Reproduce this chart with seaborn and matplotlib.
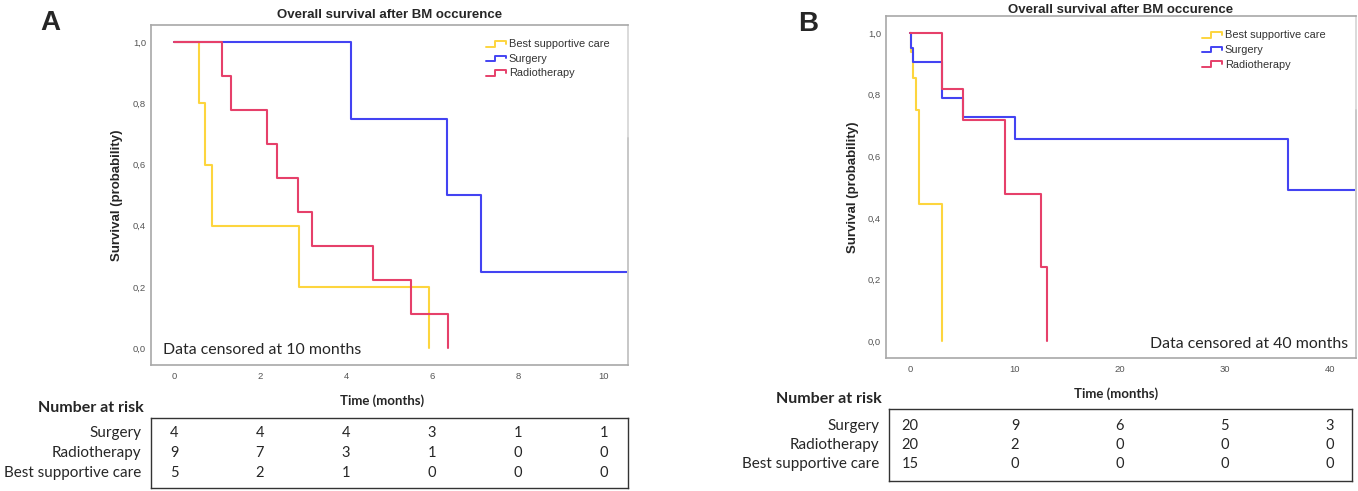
import numpy as np
import pandas as pd
import matplotlib
matplotlib.use("Agg")
import matplotlib.pyplot as plt
import matplotlib.transforms as mtrans
from matplotlib.legend_handler import HandlerBase
from matplotlib.lines import Line2D
import seaborn as sns

sns.set_theme(style="white")
plt.rcParams["font.family"] = ["Liberation Sans", "DejaVu Sans"]

GROUPS = ["Best supportive care", "Surgery", "Radiotherapy"]
COLORS = {"Best supportive care": "#FDD53E",
          "Surgery": "#4343F2",
          "Radiotherapy": "#E6406A"}
CAL = ["Lato", "DejaVu Sans"]

# ── Panel A: Kaplan-Meier steps (months, survival) ───────────
a_bsc_t = [0, 0.59, 0.71, 0.88, 2.91, 5.93]
a_bsc_s = [1.0, 0.8, 0.6, 0.4, 0.2, 0.0]
a_sur_t = [0, 4.11, 6.34, 7.13, 10.6]
a_sur_s = [1.0, 0.75, 0.5, 0.25, 0.25]
a_rad_t = [0, 1.11, 1.33, 2.17, 2.40, 2.88, 3.22, 4.64, 5.52, 6.37]
a_rad_s = [1.0, 0.889, 0.778, 0.667, 0.556, 0.444, 0.333, 0.222, 0.111, 0.0]

# ── Panel B ───────────────────────────────────────────────────
b_bsc_t = [0, 0.06, 0.25, 0.57, 0.88, 3.0]
b_bsc_s = [1.0, 0.94, 0.853, 0.75, 0.445, 0.0]
b_sur_t = [0, 0.13, 0.31, 3.0, 5.07, 10.0, 36.0, 42.6]
b_sur_s = [1.0, 0.952, 0.905, 0.79, 0.728, 0.656, 0.492, 0.492]
b_rad_t = [0, 3.0, 5.07, 9.04, 12.47, 13.1]
b_rad_s = [1.0, 0.82, 0.717, 0.478, 0.24, 0.0]

# ── Number at risk tables ─────────────────────────────────────
a_risk_times = [0, 2, 4, 6, 8, 10]
a_risk_surgery = [4, 4, 4, 3, 1, 1]
a_risk_radio = [9, 7, 3, 1, 0, 0]
a_risk_bsc = [5, 2, 1, 0, 0, 0]

b_risk_times = [0, 10, 20, 30, 40]
b_risk_surgery = [20, 9, 6, 5, 3]
b_risk_radio = [20, 2, 0, 0, 0]
b_risk_bsc = [15, 0, 0, 0, 0]

a_xticks = [0, 2, 4, 6, 8, 10]
b_xticks = [0, 10, 20, 30, 40]
yticks = [0.0, 0.2, 0.4, 0.6, 0.8, 1.0]


class StepHandler(HandlerBase):
    def create_artists(self, legend, orig_handle, xdescent, ydescent,
                       width, height, fontsize, trans):
        x = np.array([0, 0.45, 0.45, 1.0, 1.0]) * width - xdescent
        y = np.array([0.1, 0.1, 0.8, 0.8, 0.45]) * height - ydescent
        ln = Line2D(x, y, color=orig_handle.get_color(), lw=1.4)
        ln.set_transform(trans)
        return [ln]


def to_long(curves):
    rows = []
    for g, (t, s) in zip(GROUPS, curves):
        rows.append(pd.DataFrame({"time": t, "surv": s, "group": g}))
    return pd.concat(rows, ignore_index=True)


def km_panel(ax, df, xlim, xticks, censor_txt, censor_xy, censor_ha,
             leg_anchor, title_pad, dark_frac, xlab_x):
    sns.lineplot(data=df, x="time", y="surv", hue="group",
                 hue_order=GROUPS, palette=COLORS, estimator=None,
                 drawstyle="steps-post", linewidth=1.5, ax=ax, legend=False)
    ax.set_xlim(*xlim)
    ax.set_ylim(-0.055, 1.056)
    ax.set_xticks(xticks)
    ax.set_xticklabels([str(x) for x in xticks])
    ax.set_yticks(yticks)
    ax.set_yticklabels([f"{v:.1f}".replace(".", ",") for v in yticks])
    ax.tick_params(length=0, labelsize=6.8, labelcolor="#555555")
    ax.tick_params(axis="x", pad=5)
    ax.tick_params(axis="y", pad=3.5)
    for sp in ax.spines.values():
        sp.set_color("#a8a8a8")
        sp.set_linewidth(1.2)
    ax.spines["right"].set_color("#d4d4d4")
    ax.axvline(xlim[1], ymin=0, ymax=dark_frac, color="#8c8c8c",
               lw=1.4, clip_on=False)
    ax.set_title("Overall survival after BM occurence", fontsize=9.5,
                 fontweight="bold", pad=title_pad)
    ax.set_ylabel("Survival (probability)", fontsize=9.5, fontweight="bold")
    ax.set_xlabel("Time (months)", fontsize=9.5, fontweight="bold",
                  family=CAL)
    ax.yaxis.set_label_coords(-0.058, 0.5)
    ax.xaxis.set_label_coords(xlab_x, -0.085)
    ax.text(*censor_xy, censor_txt, transform=ax.transAxes, ha=censor_ha,
            va="center", fontsize=11.4, family=CAL)
    handles = [Line2D([], [], color=COLORS[g]) for g in GROUPS]
    ax.legend(handles, GROUPS, handler_map={Line2D: StepHandler()},
              loc="upper left", bbox_to_anchor=leg_anchor, frameon=False,
              fontsize=7.9, handlelength=1.8, handletextpad=0.3,
              labelspacing=0.42, borderpad=0, borderaxespad=0,
              labelcolor="#333333")


def risk_table(ax_tab, ax_plot, times, rows, ys, label_pad):
    ax_tab.set_xticks([]); ax_tab.set_yticks([])
    ax_tab.set_xlim(0, 1); ax_tab.set_ylim(0, 1)
    for sp in ax_tab.spines.values():
        sp.set_color("#333333")
        sp.set_linewidth(1.0)
    tr = mtrans.blended_transform_factory(ax_plot.transData, ax_tab.transAxes)
    for (name, vals), y in zip(rows, ys):
        for t, v in zip(times, vals):
            ax_tab.text(t, y, str(v), transform=tr, ha="center", va="center",
                        fontsize=10.5, family=CAL)
        ax_tab.annotate(name, xy=(0, y), xycoords="axes fraction",
                        xytext=(-label_pad, 0), textcoords="offset points",
                        ha="right", va="center", fontsize=11, family=CAL)
    ax_tab.annotate("Number at risk", xy=(0, 1), xycoords="axes fraction",
                    xytext=(-label_pad + 2, 7.5), textcoords="offset points",
                    ha="right", va="center", fontsize=11.5, fontweight="bold",
                    family=CAL)


W, H = 1358, 491
fig = plt.figure(figsize=(W / 100, H / 100), dpi=100)


def box(l, t, r, b):
    return [l / W, 1 - b / H, (r - l) / W, (b - t) / H]


ax_a = fig.add_axes(box(151, 25, 628, 365))
ax_b = fig.add_axes(box(886, 16, 1356, 358))
tab_a = fig.add_axes(box(151, 418, 628, 488))
tab_b = fig.add_axes(box(889, 409, 1352, 481))

df_a = to_long([(a_bsc_t, a_bsc_s), (a_sur_t, a_sur_s), (a_rad_t, a_rad_s)])
df_b = to_long([(b_bsc_t, b_bsc_s), (b_sur_t, b_sur_s), (b_rad_t, b_rad_s)])

km_panel(ax_a, df_a, (-0.535, 10.56), a_xticks,
         "Data censored at 10 months", (0.025, 0.044), "left",
         (0.702, 0.958), 5.0, 0.668, 0.485)
km_panel(ax_b, df_b, (-2.29, 42.5), b_xticks,
         "Data censored at 40 months", (0.983, 0.04), "right",
         (0.672, 0.958), 2.0, 0.725, 0.49)

risk_table(tab_a, ax_a, a_risk_times,
           [("Surgery", a_risk_surgery), ("Radiotherapy", a_risk_radio),
            ("Best supportive care", a_risk_bsc)], [0.79, 0.5, 0.22], 7)
risk_table(tab_b, ax_b, b_risk_times,
           [("Surgery", b_risk_surgery), ("Radiotherapy", b_risk_radio),
            ("Best supportive care", b_risk_bsc)], [0.77, 0.5, 0.23], 7)

fig.text(50 / W, 1 - 23 / H, "A", ha="center", va="center",
         fontsize=20, fontweight="bold")
fig.text(808 / W, 1 - 24 / H, "B", ha="center", va="center",
         fontsize=20, fontweight="bold")

fig.savefig("out.png", dpi=100)
